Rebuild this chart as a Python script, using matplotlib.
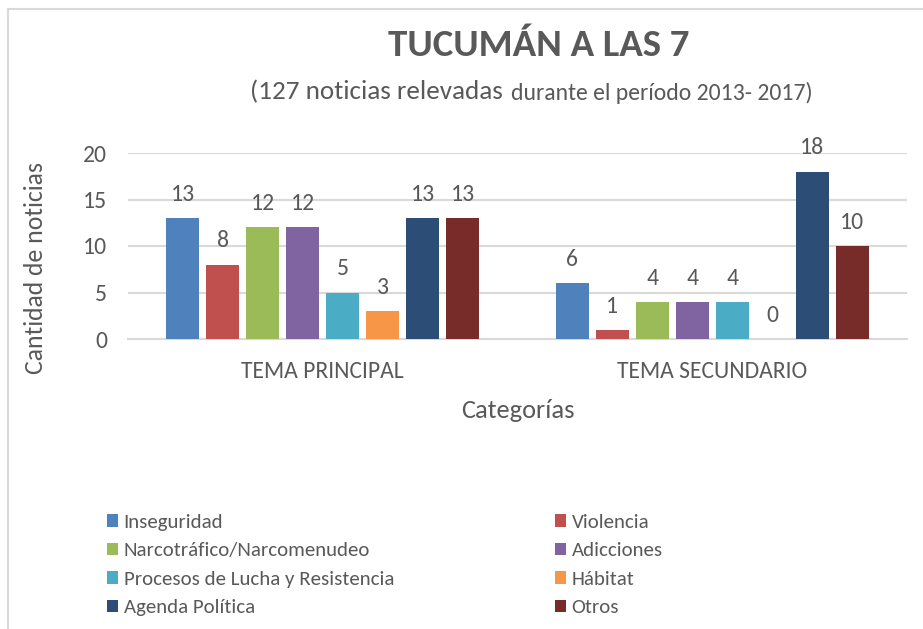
import matplotlib
matplotlib.use("Agg")
import matplotlib.pyplot as plt
from matplotlib import font_manager
from matplotlib.patches import Patch
import numpy as np

categories = ["TEMA PRINCIPAL", "TEMA SECUNDARIO"]
series_names = ["Inseguridad", "Violencia", "Narcotráfico/Narcomenudeo", "Adicciones",
                "Procesos de Lucha y Resistencia", "Hábitat", "Agenda Política", "Otros"]
inseguridad = [13, 6]
violencia = [8, 1]
narcotrafico = [12, 4]
adicciones = [12, 4]
procesos = [5, 4]
habitat = [3, 0]
agenda = [13, 18]
otros = [13, 10]
series_values = [inseguridad, violencia, narcotrafico, adicciones, procesos, habitat, agenda, otros]
colors = ["#4F81BD", "#C0504D", "#9BBB59", "#8064A2", "#4BACC6", "#F79646", "#2C4D75", "#772C2A"]
yticks = [0, 5, 10, 15, 20]

avail = {f.name for f in font_manager.fontManager.ttflist}
fam = next((f for f in ["Carlito", "Lato", "Open Sans", "DejaVu Sans"] if f in avail), "DejaVu Sans")
plt.rcParams['font.family'] = [fam, 'DejaVu Sans']
txt = "#595959"

W, H = 923, 629
fig = plt.figure(figsize=(W / 100, H / 100), dpi=100)
ax = fig.add_axes([128 / W, (H - 339) / H, (907 - 128) / W, (339 - 153) / H])

x = np.arange(len(categories))
n = len(series_values)
slot = 0.1027
bw = 0.0847
for i, (name, vals, c) in enumerate(zip(series_names, series_values, colors)):
    pos = x + slot * (i - (n - 1) / 2)
    bars = ax.bar(pos, vals, width=bw, color=c, label=name, zorder=3)
    for b, v in zip(bars, vals):
        ax.annotate(str(v), (b.get_x() + b.get_width() / 2, v), xytext=(0, 9.5),
                    textcoords="offset points", ha="center", va="bottom",
                    fontsize=17, color=txt)

ax.set_xlim(-0.5, 1.5)
ax.set_ylim(0, 20)
ax.set_yticks(yticks)
ax.set_xticks(x)
ax.set_xticklabels(categories)
ax.tick_params(axis="both", length=0, labelsize=17, colors=txt)
ax.tick_params(axis="x", pad=16)
ax.tick_params(axis="y", pad=15)
ax.yaxis.grid(True, color="#D9D9D9", linewidth=1.5, zorder=0)
for s in ["top", "right", "left"]:
    ax.spines[s].set_visible(False)
ax.spines["bottom"].set_color("#D9D9D9")
ax.spines["bottom"].set_linewidth(1.5)
ax.set_ylabel("Cantidad de noticias", fontsize=18.5, color=txt, va="center")
ax.yaxis.set_label_coords((36 - 128) / (907 - 128), (339 - 268) / (339 - 153))
ax.set_xlabel("Categorías", fontsize=19, color=txt, va="center")
ax.xaxis.set_label_coords((518 - 128) / (907 - 128), -(410 - 339) / (339 - 153))

fig.text(539 / W, 1 - 46 / H, "TUCUMÁN A LAS 7", ha="center", va="center",
         fontsize=28, fontweight="bold", color=txt)
fig.text(503 / W, 1 - 92 / H, "(127 noticias relevadas", ha="right", va="center",
         fontsize=19.5, color=txt)
fig.text(511 / W, 1 - 93 / H, "durante el período 2013- 2017)", ha="left", va="center",
         fontsize=17, color=txt)

handles = [Patch(facecolor=c, edgecolor="none") for c in colors]
left_idx = [0, 2, 4, 6]
right_idx = [1, 3, 5, 7]
common = dict(frameon=False, fontsize=15, labelcolor=txt, handlelength=0.55,
              handleheight=0.55, handletextpad=0.25, labelspacing=0.55, borderpad=0,
              borderaxespad=0, loc="upper left")
leg1 = fig.legend([handles[i] for i in left_idx], [series_names[i] for i in left_idx],
                  bbox_to_anchor=(107 / W, 1 - 514 / H), **common)
leg2 = fig.legend([handles[i] for i in right_idx], [series_names[i] for i in right_idx],
                  bbox_to_anchor=(555 / W, 1 - 514 / H), **common)

fig.add_artist(plt.Line2D([8 / W, 8 / W], [0, 1 - 9 / H], transform=fig.transFigure,
                          color="#D9D9D9", linewidth=1.5))
fig.add_artist(plt.Line2D([8 / W, 1], [1 - 9 / H, 1 - 9 / H], transform=fig.transFigure,
                          color="#D9D9D9", linewidth=1.5))

fig.savefig("out.png", dpi=100, facecolor="white")
